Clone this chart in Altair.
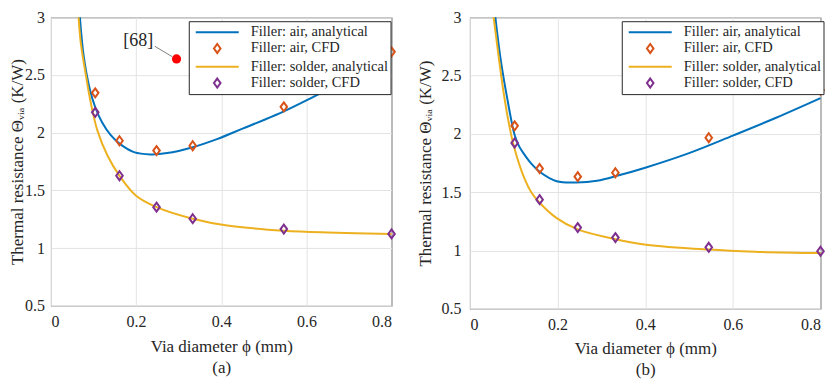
import altair as alt
import pandas as pd

SERIES = ["Filler: air, analytical", "Filler: air, CFD",
          "Filler: solder, analytical", "Filler: solder, CFD"]
COLORS = ["#0072BD", "#D95319", "#EDB120", "#7E2F8E"]
LINE_PATH = "M-2.69,0L2.69,0"
DIAMOND = "M0,-0.56L0.41,0L0,0.56L-0.41,0Z"
SHAPES = [LINE_PATH, DIAMOND, LINE_PATH, DIAMOND]

# ---------- panel (a) ----------
a_air_ana_x = [0.068, 0.077, 0.091, 0.104, 0.12, 0.14, 0.161, 0.195, 0.234, 0.273,
               0.333, 0.39, 0.45, 0.50, 0.547, 0.60, 0.70, 0.80]
a_air_ana_y = [3.0, 2.66, 2.38, 2.22, 2.09, 1.98, 1.905, 1.832, 1.812, 1.823,
               1.874, 1.944, 2.035, 2.11, 2.185, 2.28, 2.47, 2.66]
a_sol_ana_x = [0.065, 0.07, 0.082, 0.094, 0.109, 0.133, 0.161, 0.2, 0.248, 0.333,
               0.414, 0.547, 0.65, 0.8]
a_sol_ana_y = [3.0, 2.78, 2.50, 2.25, 2.02, 1.80, 1.627, 1.454, 1.355, 1.255,
               1.196, 1.151, 1.135, 1.123]
a_cfd_x = [0.104, 0.161, 0.248, 0.333, 0.547, 0.8]
a_air_cfd_y = [2.345, 1.93, 1.845, 1.887, 2.224, 2.70]
a_sol_cfd_y = [2.176, 1.627, 1.355, 1.255, 1.165, 1.123]

# reference [68] marker in panel (a)
ref_x = [0.295]
ref_y = [2.639]
ref_label = ["[68]"]
ref_label_x = [0.205]
ref_label_y = [2.79]
leader_x = [0.244]
leader_y = [2.748]
leader_x2 = [0.285]
leader_y2 = [2.658]

# ---------- panel (b) ----------
b_air_ana_x = [0.058, 0.069, 0.085, 0.102, 0.112, 0.122, 0.14, 0.159, 0.198, 0.243,
               0.29, 0.34, 0.40, 0.50, 0.60, 0.70, 0.80]
b_air_ana_y = [3.0, 2.667, 2.306, 1.99, 1.895, 1.835, 1.745, 1.675, 1.594, 1.583,
               1.598, 1.645, 1.71, 1.835, 1.985, 2.14, 2.306]
b_sol_ana_x = [0.054, 0.066, 0.077, 0.092, 0.102, 0.122, 0.14, 0.159, 0.198, 0.246,
               0.332, 0.402, 0.545, 0.65, 0.8]
b_sol_ana_y = [3.0, 2.65, 2.35, 2.03, 1.87, 1.64, 1.50, 1.41, 1.278, 1.181,
               1.097, 1.05, 1.008, 0.99, 0.978]
b_cfd_x = [0.102, 0.159, 0.246, 0.332, 0.545, 0.8]
b_air_cfd_y = [2.069, 1.703, 1.633, 1.667, 1.967, 2.375]
b_sol_cfd_y = [1.922, 1.436, 1.197, 1.111, 1.028, 0.994]

X_TICKS = [0, 0.2, 0.4, 0.6, 0.8]
Y_TICKS = [0.5, 1, 1.5, 2, 2.5, 3]

FONT = "Liberation Serif"
TXT = "#262626"


def frame(xs, ys, name):
    return pd.DataFrame({"x": xs, "y": ys, "series": name})


def panel(air_x, air_y, sol_x, sol_y, cfd_x, air_cfd, sol_cfd, w, h, sub,
          lx, ly, ylp, ytx, xty, annot=False):
    lines = pd.concat([frame(air_x, air_y, SERIES[0]), frame(sol_x, sol_y, SERIES[2])])
    pts = pd.concat([frame(cfd_x, air_cfd, SERIES[1]), frame(cfd_x, sol_cfd, SERIES[3])])

    leg = alt.Legend(title=None, orient="none", legendX=lx, legendY=ly,
                     fillColor="white", strokeColor=TXT, padding=2, rowPadding=0.3,
                     symbolSize=256, symbolStrokeWidth=2, symbolOffset=17.5,
                     labelOffset=24.5, labelFont=FONT, labelFontSize=14.5,
                     labelColor=TXT, labelLimit=400)
    cscale = alt.Scale(domain=SERIES, range=COLORS)
    sscale = alt.Scale(domain=SERIES, range=SHAPES)
    xenc = alt.X("x:Q", scale=alt.Scale(domain=[0, 0.8], nice=False, zero=False),
                 axis=alt.Axis(values=X_TICKS, format="~g",
                               labelFont=FONT, labelFontSize=16, labelColor=TXT,
                               title=["Via diameter ϕ (mm)", sub],
                               titleX=w / 2, titleY=xty, titleBaseline="alphabetic",
                               titleLineHeight=21, labelPadding=8))
    yenc = alt.Y("y:Q", scale=alt.Scale(domain=[0.5, 3], nice=False, zero=False),
                 axis=alt.Axis(values=Y_TICKS, format="~g",
                               labelFont=FONT, labelFontSize=16, labelColor=TXT,
                               title="Thermal resistance Θᵥᵢₐ (K/W)",
                               titleX=ytx, titleY=h / 2, titleBaseline="alphabetic",
                               labelPadding=ylp))

    line_layer = alt.Chart(lines).mark_line(strokeWidth=2, interpolate="catmull-rom").encode(
        x=xenc, y=yenc,
        color=alt.Color("series:N", scale=cscale, legend=leg),
    )
    pt_layer = alt.Chart(pts).mark_point(filled=False, size=256, strokeWidth=2, opacity=1).encode(
        x="x:Q", y="y:Q",
        color=alt.Color("series:N", scale=cscale, legend=leg),
        shape=alt.Shape("series:N", scale=sscale, legend=leg),
    )
    layers = [line_layer, pt_layer]
    if annot:
        ref = pd.DataFrame({"x": ref_x, "y": ref_y})
        lab = pd.DataFrame({"x": ref_label_x, "y": ref_label_y, "t": ref_label})
        ld = pd.DataFrame({"x": leader_x, "y": leader_y, "x2": leader_x2, "y2": leader_y2})
        layers.append(alt.Chart(ld).mark_rule(color="#808080", strokeWidth=1).encode(
            x="x:Q", y="y:Q", x2="x2:Q", y2="y2:Q"))
        layers.append(alt.Chart(ref).mark_circle(color="#FF0000", size=85, opacity=1).encode(
            x="x:Q", y="y:Q"))
        layers.append(alt.Chart(lab).mark_text(font=FONT, fontSize=18, color=TXT).encode(
            x="x:Q", y="y:Q", text="t:N"))
    return alt.layer(*layers).properties(width=w, height=h)


pa = panel(a_air_ana_x, a_air_ana_y, a_sol_ana_x, a_sol_ana_y, a_cfd_x, a_air_cfd_y,
           a_sol_cfd_y, 341, 289, "(a)", 138, 4, 6.5, -28, 45.3, annot=True)
pb = panel(b_air_ana_x, b_air_ana_y, b_sol_ana_x, b_sol_ana_y, b_cfd_x, b_air_cfd_y,
           b_sol_cfd_y, 351, 292, "(b)", 152, 4, 9, -39.5, 45)

chart = alt.hconcat(pa, pb, spacing=78.5, bounds="flush",
                    padding={"left": 0, "top": 0, "right": 0, "bottom": 0},
                    background="white").resolve_scale(
    color="independent", shape="independent"
).configure_view(stroke=TXT, strokeWidth=1).configure_axis(
    domain=False, ticks=False, grid=True, gridColor="#e3e3e3", gridWidth=1,
    labelFont=FONT, labelFontSize=16, labelColor=TXT,
    titleFont=FONT, titleFontSize=17, titleColor=TXT, titleFontWeight="normal",
)

chart.save("out.html", embed_options={"renderer": "svg", "actions": False})
